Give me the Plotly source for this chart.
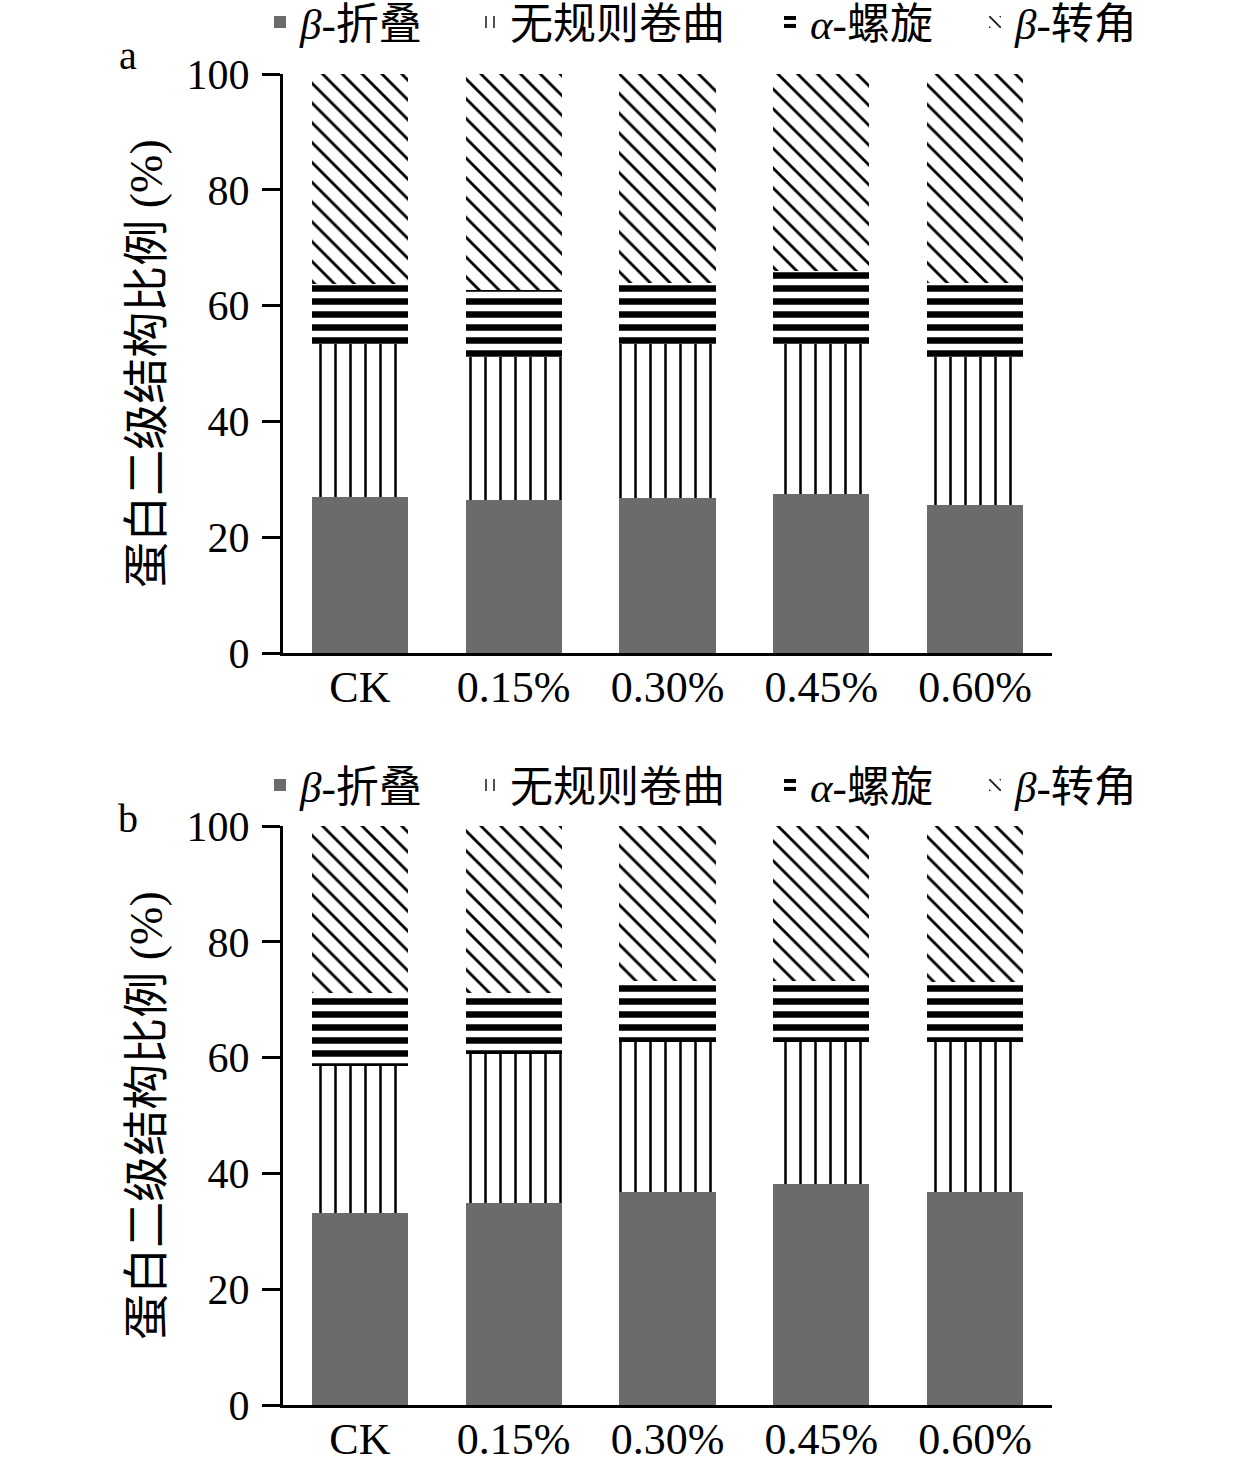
import plotly.graph_objects as go

categories = ["CK", "0.15%", "0.30%", "0.45%", "0.60%"]
series_names = ["<i>β</i>-折叠", "无规则卷曲", "<i>α</i>-螺旋", "<i>β</i>-转角"]

# Panel a (segment sizes, %)
a_beta_sheet = [26.9, 26.4, 26.8, 27.5, 25.6]
a_random_coil = [26.5, 24.7, 26.6, 25.9, 25.5]
a_alpha_helix = [10.4, 11.6, 10.5, 12.5, 12.8]
a_beta_turn = [36.2, 37.3, 36.1, 34.1, 36.1]

# Panel b (segment sizes, %)
b_beta_sheet = [33.2, 34.9, 36.8, 38.2, 36.8]
b_random_coil = [25.3, 25.7, 25.9, 24.5, 25.9]
b_alpha_helix = [12.6, 10.5, 10.5, 10.5, 10.3]
b_beta_turn = [28.9, 28.9, 26.8, 26.8, 27.0]

y_ticks = [0, 20, 40, 60, 80, 100]

FONT = "Liberation Serif, Noto Sans CJK SC, serif"
W, H = 1260, 1467

styles = [
    dict(color="#6b6b6b", pattern=dict(shape="")),
    dict(color="white", pattern=dict(shape="|", fgcolor="#000000", bgcolor="white", fgopacity=1, size=15, solidity=0.17)),
    dict(color="white", pattern=dict(shape="-", fgcolor="#000000", bgcolor="white", fgopacity=1, size=13, solidity=0.5)),
    dict(color="white", pattern=dict(shape="\\", fgcolor="#000000", bgcolor="white", fgopacity=1, size=14, solidity=0.2)),
]

# legend text start x (px) for each series, and legend row centre y (px) for each panel
legend_text_x = [300, 510, 810, 1015]
legend_row_y = [22, 785]

fig = go.Figure()
panels = [
    ("x", "y", [a_beta_sheet, a_random_coil, a_alpha_helix, a_beta_turn]),
    ("x2", "y2", [b_beta_sheet, b_random_coil, b_alpha_helix, b_beta_turn]),
]
legend_layout = {}
k = 0
for p, (xa, ya, data) in enumerate(panels):
    for i, (name, vals, st) in enumerate(zip(series_names, data, styles)):
        k += 1
        lid = "legend" if k == 1 else f"legend{k}"
        fig.add_trace(go.Bar(
            x=categories, y=vals, name=name, xaxis=xa, yaxis=ya, legend=lid, showlegend=True,
            marker=dict(color=st["color"], pattern=st["pattern"], line=dict(width=0)),
        ))
        legend_layout[lid] = dict(
            orientation="h", xanchor="left", yanchor="middle",
            x=(legend_text_x[i] - 40) / W, y=(H - legend_row_y[p]) / H,
            font=dict(family=FONT, size=43, color="black"),
            bgcolor="rgba(0,0,0,0)", borderwidth=0,
        )

x0, x1 = 283 / W, 1052 / W
def ydom(top_px, bot_px):
    return [(H - bot_px) / H, (H - top_px) / H]

axis_common = dict(showline=True, linecolor="black", linewidth=3, showgrid=False, zeroline=False,
                   automargin=False)
xcommon = dict(axis_common, type="category", ticks="", ticklabelstandoff=-7,
               tickfont=dict(family=FONT, size=44, color="black"))
ycommon = dict(axis_common, range=[0, 100], tickvals=y_ticks, ticks="outside", ticklen=18,
               tickwidth=3, tickcolor="black", ticklabelstandoff=4,
               tickfont=dict(family=FONT, size=42, color="black"),
               title=dict(text="蛋白二级结构比例 (%)", font=dict(family=FONT, size=46, color="black"),
                          standoff=10))

fig.update_layout(
    template="none",
    showlegend=True,
    width=W, height=H, margin=dict(l=0, r=0, t=0, b=0, pad=0, autoexpand=False),
    paper_bgcolor="white", plot_bgcolor="white", barmode="stack", bargap=0.375,
    xaxis=dict(xcommon, domain=[x0, x1], anchor="y"),
    yaxis=dict(ycommon, domain=ydom(74, 653), anchor="x"),
    xaxis2=dict(xcommon, domain=[x0, x1], anchor="y2"),
    yaxis2=dict(ycommon, domain=ydom(826, 1405), anchor="x2"),
    annotations=[
        dict(text="a", x=128 / W, y=(H - 55) / H, xref="paper", yref="paper", showarrow=False,
             xanchor="center", yanchor="middle", font=dict(family=FONT, size=40, color="black")),
        dict(text="b", x=128 / W, y=(H - 818) / H, xref="paper", yref="paper", showarrow=False,
             xanchor="center", yanchor="middle", font=dict(family=FONT, size=40, color="black")),
    ],
    **legend_layout,
)

fig.write_html("out.html", config={"displayModeBar": False},
               post_script="document.body.style.margin='0px';")
